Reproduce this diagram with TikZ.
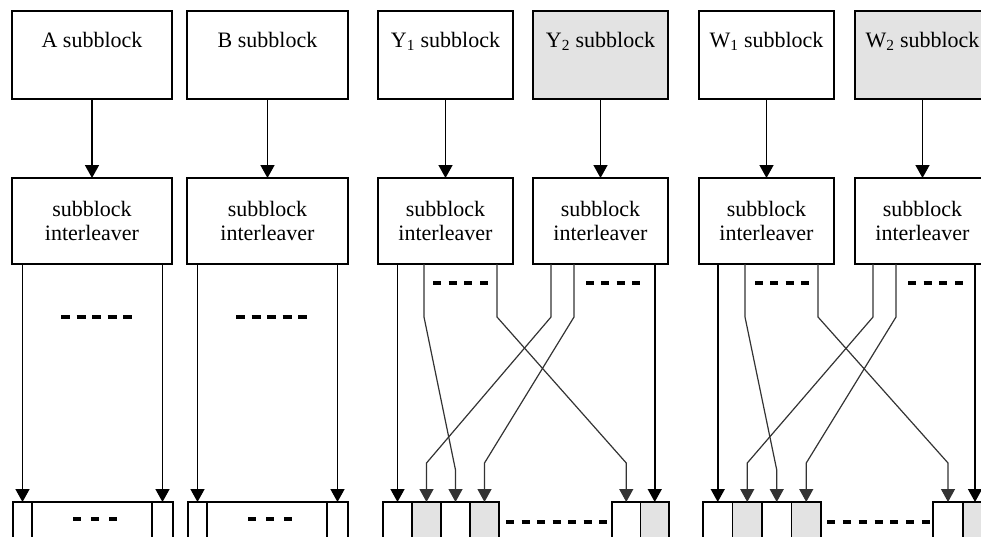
\documentclass[tikz,border=0pt]{standalone}
\usepackage{fontspec}
\setmainfont{Liberation Serif}
\usetikzlibrary{arrows.meta,calc}
\definecolor{shade}{HTML}{E3E3E3}
\begin{document}
\begin{tikzpicture}[x=1pt,y=-1pt,
  box/.style={draw,line width=1.5pt,outer sep=0pt,inner sep=0pt,align=center,
    font=\fontsize{22}{24}\selectfont,minimum height=88pt},
  ilbox/.style={box,minimum height=86pt},
  cell/.style={draw,line width=1.5pt,outer sep=0pt,inner sep=0pt,minimum height=50pt,anchor=north west},
  gcell/.style={cell,fill=shade},
  arr/.style={-{Triangle[width=14pt,length=13pt]},line width=1.5pt,black},
  bent/.style={line width=1.2pt,black!80},
  dots/.style={line width=3.4pt,black}
]
\useasboundingbox (0,0) rectangle (981,536);
\clip (0,0) rectangle (981,536);

% top subblocks
\node[box,minimum width=160pt] (A) at (92,55) {A subblock\\ \strut};
\node[box,minimum width=161pt] (B) at (267.5,55) {B subblock\\ \strut};
\node[box,minimum width=135pt] (Y1) at (445.5,55) {Y\textsubscript{1} subblock\\ \strut};
\node[box,minimum width=135pt,fill=shade] (Y2) at (600.5,55) {Y\textsubscript{2} subblock\\ \strut};
\node[box,minimum width=135pt] (W1) at (766.5,55) {W\textsubscript{1} subblock\\ \strut};
\node[box,minimum width=135pt,fill=shade] (W2) at (922.5,55) {W\textsubscript{2} subblock\\ \strut};

% interleavers
\node[ilbox,minimum width=160pt] (ilA) at (92,221) {subblock\\interleaver};
\node[ilbox,minimum width=161pt] (ilB) at (267.5,221) {subblock\\interleaver};
\node[ilbox,minimum width=135pt] (ilY1) at (445.5,221) {subblock\\interleaver};
\node[ilbox,minimum width=135pt] (ilY2) at (600.5,221) {subblock\\interleaver};
\node[ilbox,minimum width=135pt] (ilW1) at (766.5,221) {subblock\\interleaver};
\node[ilbox,minimum width=135pt] (ilW2) at (922.5,221) {subblock\\interleaver};

\foreach \s in {A,B,Y1,Y2,W1,W2}{\draw[arr] (\s.south) -- (il\s.north);}

% output cells
\node[cell,minimum width=19pt] (a1) at (13,502) {};
\node[cell,minimum width=120pt] (am) at (32,502) {};
\node[cell,minimum width=21pt] (a2) at (152,502) {};
\node[cell,minimum width=19pt] (b1) at (188,502) {};
\node[cell,minimum width=120pt] (bm) at (207,502) {};
\node[cell,minimum width=21pt] (b2) at (327,502) {};

\node[cell,minimum width=29pt] (c1) at (383,502) {};
\node[gcell,minimum width=29pt] (c2) at (412,502) {};
\node[cell,minimum width=29pt] (c3) at (441,502) {};
\node[gcell,minimum width=29pt] (c4) at (470,502) {};
\node[cell,minimum width=28.5pt] (c5) at (612,502) {};
\node[gcell,minimum width=28.5pt] (c6) at (640.5,502) {};

\node[cell,minimum width=29.5pt] (w1) at (703,502) {};
\node[gcell,minimum width=29.5pt] (w2) at (732.5,502) {};
\node[cell,minimum width=29.5pt] (w3) at (762,502) {};
\node[gcell,minimum width=29.5pt] (w4) at (791.5,502) {};
\node[cell,minimum width=30pt] (w5) at (933,502) {};
\node[gcell,minimum width=30pt] (w6) at (963,502) {};

% A and B connectors
\draw[arr] (a1 |- ilA.south) -- (a1.north);
\draw[arr] (a2 |- ilA.south) -- (a2.north);
\draw[arr] (b1 |- ilB.south) -- (b1.north);
\draw[arr] (b2 |- ilB.south) -- (b2.north);

% Y connectors
\draw[arr] (c1 |- ilY1.south) -- (c1.north);
\draw[arr,bent] ([xshift=46pt]ilY1.south west) -- ++(0,53) -- ($(c3.north)+(0,-32)$) -- (c3.north);
\draw[arr,bent] ([xshift=119pt]ilY1.south west) -- ++(0,53) -- ($(c5.north)+(0,-39)$) -- (c5.north);
\draw[arr,bent] ([xshift=18pt]ilY2.south west) -- ++(0,53) -- ($(c2.north)+(0,-39)$) -- (c2.north);
\draw[arr,bent] ([xshift=41pt]ilY2.south west) -- ++(0,53) -- ($(c4.north)+(0,-39)$) -- (c4.north);
\draw[arr] (c6 |- ilY2.south) -- (c6.north);

% W connectors
\draw[arr] (w1 |- ilW1.south) -- (w1.north);
\draw[arr,bent] ([xshift=46pt]ilW1.south west) -- ++(0,53) -- ($(w3.north)+(0,-32)$) -- (w3.north);
\draw[arr,bent] ([xshift=119pt]ilW1.south west) -- ++(0,53) -- ($(w5.north)+(0,-39)$) -- (w5.north);
\draw[arr,bent] ([xshift=18pt]ilW2.south west) -- ++(0,53) -- ($(w2.north)+(0,-39)$) -- (w2.north);
\draw[arr,bent] ([xshift=41pt]ilW2.south west) -- ++(0,53) -- ($(w4.north)+(0,-39)$) -- (w4.north);
\draw[arr] ([xshift=-3pt]w6.north |- ilW2.south) -- ([xshift=-3pt]w6.north);

% dashes
\draw[dots,dash pattern=on 9pt off 6.5pt] (61,317) -- (132,317);
\draw[dots,dash pattern=on 9pt off 6.5pt] (236,317) -- (307,317);
\draw[dots,dash pattern=on 8pt off 10pt] (73,519) -- (117,519);
\draw[dots,dash pattern=on 8pt off 10pt] (248,519) -- (292,519);
\draw[dots,dash pattern=on 8pt off 7.67pt] (433,283) -- (488,283);
\draw[dots,dash pattern=on 8pt off 7.33pt] (586,283) -- (640,283);
\draw[dots,dash pattern=on 8pt off 7.33pt] (755,283) -- (809,283);
\draw[dots,dash pattern=on 8pt off 7.67pt] (908,283) -- (963,283);
\draw[dots,dash pattern=on 8pt off 7.5pt] (506,522) -- (607,522);
\draw[dots,dash pattern=on 8pt off 7.83pt] (827,522) -- (930,522);
\end{tikzpicture}
\end{document}
